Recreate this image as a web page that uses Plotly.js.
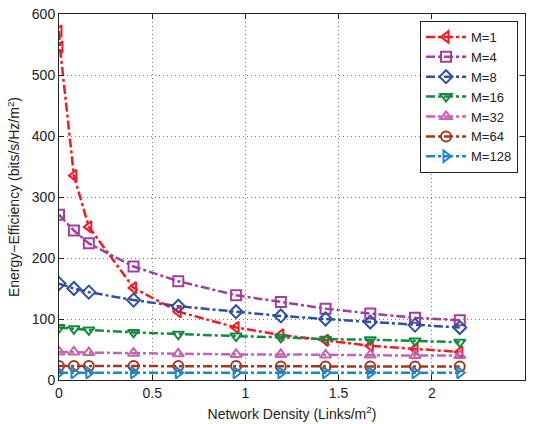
<!DOCTYPE html>
<html><head><meta charset="utf-8">
<script src="https://cdn.plot.ly/plotly-3.0.1.min.js"></script>
<style>body{margin:0;background:#fff}#c{width:534px;height:424px}</style>
</head><body><div id="c"></div>
<script>
const xM1 = [0, 0.005, 0.08, 0.16, 0.4, 0.64, 0.95, 1.19, 1.43, 1.67, 1.91, 2.15];
const xAll = [0, 0.08, 0.16, 0.4, 0.64, 0.95, 1.19, 1.43, 1.67, 1.91, 2.15];
const yM1 = [572, 546, 335, 251, 151, 112, 86, 74, 65, 56, 51, 46];
const yM4 = [271, 245, 224, 186, 162, 139, 128, 117, 109, 102, 98];
const yM8 = [158, 150, 144, 131, 121, 112, 105, 100, 95, 90, 86];
const yM16 = [86, 84, 82, 78, 75, 72, 70, 67, 66, 64, 62];
const yM32 = [46, 46, 45, 44, 43, 42, 42, 41, 41, 40, 40];
const yM64 = [23, 23, 23, 23, 23, 23, 22, 22, 22, 22, 22];
const yM128 = [12, 12, 12, 12, 12, 12, 12, 12, 12, 12, 12];
const names = ['M=1','M=4','M=8','M=16','M=32','M=64','M=128'];

const cols = ['#ee1c25','#a0409c','#3050a0','#138a3e','#c462b4','#a3381c','#1b88cc'];
const syms = ['triangle-left-open','square-open','diamond-open','triangle-down-open','triangle-up-open','circle-open','triangle-right-open'];
const xs = [xM1, xAll, xAll, xAll, xAll, xAll, xAll];
const ys = [yM1, yM4, yM8, yM16, yM32, yM64, yM128];

const traces = names.map((n,i)=>({
  x: xs[i], y: ys[i], name: n, type:'scatter', mode:'lines+markers',
  line:{color:cols[i], width:2.5, dash:'dashdot'},
  marker:{symbol:syms[i], size:10, color:cols[i], line:{width:2, color:cols[i]}}
}));

const ff = 'Liberation Sans, Arial, sans-serif';
const tickFont = {family:ff, size:14, color:'#222'};
const titleFont = {family:ff, size:14, color:'#222'};
const layout = {
  width:534, height:424,
  margin:{l:59, r:9, t:14, b:44},
  paper_bgcolor:'#fff', plot_bgcolor:'#fff',
  font: titleFont,
  showlegend:true,
  legend:{x:0.985, y:0.981, xanchor:'right', yanchor:'top', bgcolor:'#fff',
    bordercolor:'#222', borderwidth:1, font:{family:ff, size:13, color:'#222'},
    tracegroupgap:0, itemwidth:40},
  xaxis:{range:[0,2.5], dtick:0.5, tick0:0, showline:true, linecolor:'#222', linewidth:1, mirror:'allticks',
    ticks:'inside', ticklen:5, tickcolor:'#222', showgrid:true, gridcolor:'#777', griddash:'1px,3px', gridwidth:1,
    zeroline:false, tickfont:tickFont,
    title:{text:'Network Density (Links/m<sup>2</sup>)', font:titleFont, standoff:9}},
  yaxis:{range:[0,600], dtick:100, tick0:0, showline:true, linecolor:'#222', linewidth:1, mirror:'allticks',
    ticks:'inside', ticklen:5, tickcolor:'#222', showgrid:true, gridcolor:'#777', griddash:'1px,3px', gridwidth:1,
    zeroline:false, tickfont:tickFont,
    title:{text:'Energy\u2212Efficiency (bits/s/Hz/m<sup>2</sup>)', font:titleFont, standoff:8}}
};
Plotly.newPlot('c', traces, layout, {displayModeBar:false, staticPlot:true});
</script></body></html>
